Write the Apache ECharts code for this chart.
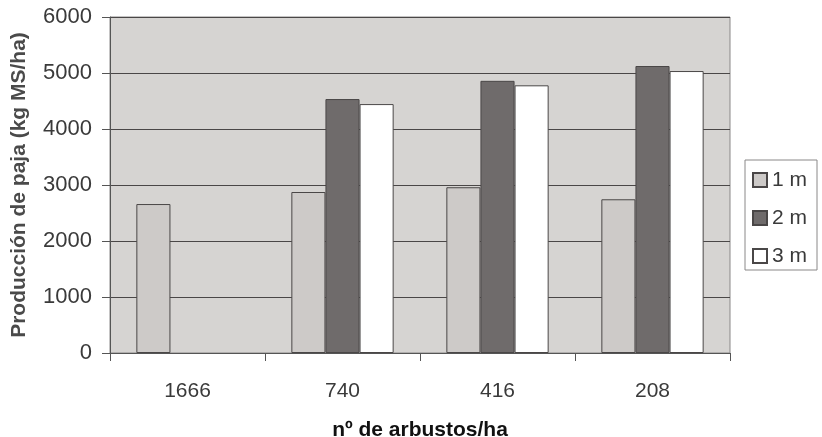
<html>
<head>
  <script src="https://cdnjs.cloudflare.com/ajax/libs/echarts/6.0.0/echarts.min.js"></script>
  <title>Producción de paja</title>
</head>
<body style="margin: 0; background: #fff;">
  <div id="main" style="width: 822px; height: 437px;"></div>
  <script>
    var categories = ['1666', '740', '416', '208'];
    var seriesNames = ['1 m', '2 m', '3 m'];
    var values1m = [2660, 2875, 2960, 2745];
    var values2m = [null, 4535, 4860, 5125];
    var values3m = [null, 4445, 4780, 5035];
    var yTicks = [0, 1000, 2000, 3000, 4000, 5000, 6000];

    var colors = ['#cdcac8', '#6f6b6b', '#ffffff'];
    var allValues = [values1m, values2m, values3m];

    var seriesList = [];
    for (let i = 0; i < seriesNames.length; ++i) {
      seriesList.push({
        name: seriesNames[i],
        type: 'bar',
        data: allValues[i],
        barGap: '0%',
        barCategoryGap: '34%',
        itemStyle: {
          color: colors[i],
          borderColor: '#4a4747',
          borderWidth: 1
        }
      });
    }

    var myChart = echarts.init(document.getElementById('main'));
    var option = {
      animation: false,
      backgroundColor: '#ffffff',
      grid: {
        left: 110,
        right: 92,
        top: 17,
        bottom: 84,
        containLabel: false,
        outerBoundsMode: 'none',
        show: true,
        backgroundColor: '#d6d4d2',
        borderColor: '#8a8888',
        borderWidth: 1
      },
      legend: {
        orient: 'vertical',
        left: 745,
        top: 160,
        padding: [9, 10, 3, 7],
        itemGap: 16,
        itemWidth: 14,
        itemHeight: 14,
        icon: 'rect',
        borderColor: '#8a8888',
        borderWidth: 1,
        textStyle: { fontFamily: 'Liberation Sans', fontSize: 21, lineHeight: 22, color: '#3a3a3a' },
        data: seriesNames
      },
      xAxis: {
        type: 'category',
        data: categories,
        name: 'nº de arbustos/ha',
        nameLocation: 'middle',
        nameGap: 67,
        nameTextStyle: { fontFamily: 'Liberation Sans', fontWeight: 'bold', fontSize: 21, color: '#111' },
        axisLine: { lineStyle: { color: '#555', width: 1 } },
        axisTick: { show: true, length: 8, lineStyle: { color: '#555' } },
        axisLabel: { fontFamily: 'Liberation Sans', fontSize: 21, color: '#3a3a3a', margin: 28 }
      },
      yAxis: {
        type: 'value',
        min: 0,
        max: 6000,
        interval: 1000,
        name: 'Producción de paja (kg MS/ha)',
        nameLocation: 'middle',
        nameGap: 80,
        nameTextStyle: { fontFamily: 'Liberation Sans', fontWeight: 'bold', fontSize: 21, color: '#4a4a4a' },
        axisLine: { show: true, lineStyle: { color: '#555', width: 1 } },
        axisTick: { show: true, length: 8, lineStyle: { color: '#555' } },
        axisLabel: {
          fontFamily: 'Liberation Sans', fontSize: 22, color: '#3a3a3a', margin: 18,
          formatter: function (v) { return yTicks.indexOf(v) >= 0 ? String(v) : ''; }
        },
        splitLine: { show: true, lineStyle: { color: '#4a4747', width: 1 } }
      },
      series: seriesList
    };
    myChart.setOption(option);
  </script>
</body>
</html>
